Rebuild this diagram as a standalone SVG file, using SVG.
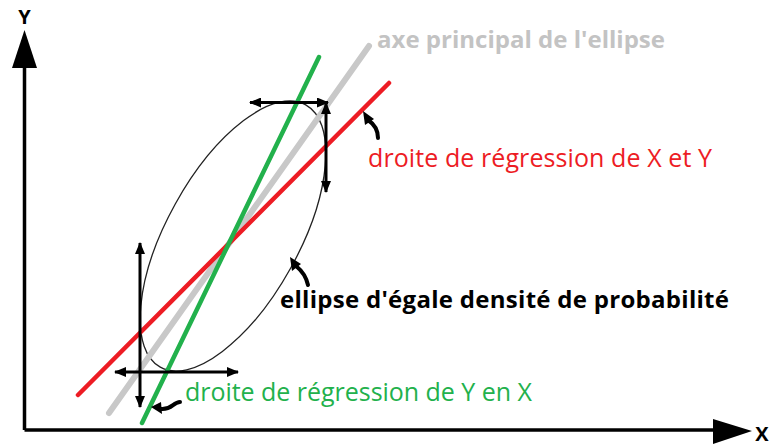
<svg xmlns="http://www.w3.org/2000/svg" width="774" height="448" viewBox="0 0 774 448">
<style>
.axis{stroke:#000;stroke-width:3.5;fill:none}
.dbl{stroke:#000;stroke-width:3;fill:none;marker-start:url(#ah);marker-end:url(#ah)}
.ptr{stroke:#000;stroke-width:4;fill:none;stroke-linecap:round}
.reg{fill:none;stroke-linecap:round}
.t{font-family:"Open Sans","Liberation Sans",sans-serif;font-size:25px}
.b{font-weight:bold;font-size:24px}
.ax{font-family:"Open Sans","Liberation Sans",sans-serif;font-weight:bold;font-size:20px}
</style>
<defs>
<marker id="ah" viewBox="0 0 12 10" refX="11" refY="5" markerWidth="12" markerHeight="10" markerUnits="userSpaceOnUse" orient="auto-start-reverse">
<path d="M0,0 L12,5 L0,10 z" fill="#000"/>
</marker>
</defs>
<rect width="774" height="448" fill="#fff"/>
<g id="axes">
<line class="axis" x1="24.5" y1="430" x2="24.5" y2="60"/>
<line class="axis" x1="24.5" y1="430" x2="720" y2="430"/>
<polygon points="24.5,30 12,68 37,68" fill="#000"/>
<polygon points="752,431 713,419 713,444" fill="#000"/>
<text x="24.5" y="24" class="ax" text-anchor="middle">Y</text>
<text x="762" y="441" class="ax" text-anchor="middle">X</text>
</g>
<g id="ellipse">
<ellipse cx="233" cy="236" rx="150" ry="66" transform="rotate(-61 233 236)" fill="none" stroke="#222" stroke-width="1.3"/>
</g>
<g id="lines">
<line id="axe-principal" class="reg" x1="109" y1="413" x2="369" y2="46" stroke="#c8c8c8" stroke-width="6"/>
<line id="reg-xy" class="reg" x1="78" y1="395" x2="389" y2="83" stroke="#ed1c24" stroke-width="4.5"/>
<line id="reg-yx" class="reg" x1="142" y1="423" x2="319" y2="57" stroke="#22b14c" stroke-width="4.5"/>
</g>
<g id="connectors">
<line class="dbl" x1="250" y1="102.5" x2="328" y2="102.5"/>
<line class="dbl" x1="326" y1="103" x2="326" y2="192"/>
<line class="dbl" x1="140" y1="243" x2="140" y2="407"/>
<line class="dbl" x1="115" y1="372" x2="238" y2="372"/>
<path class="ptr" d="M378,138 C378,129 374,124 368,120"/>
<polygon points="363,111 374,119 365,125" fill="#000"/>
<path class="ptr" d="M308,285 C306,276 301,270 296,266"/>
<polygon points="290,257 301,264 292,271" fill="#000"/>
<path class="ptr" d="M180,402 C173,402 172,410 161,409"/>
<polygon points="151,407 161,402 162,414" fill="#000"/>
</g>
<g id="labels">
<text x="377" y="48" class="t b" fill="#c3c3c3" textLength="288">axe principal de l'ellipse</text>
<text x="368" y="167" class="t" fill="#ed1c24" textLength="344">droite de régression de X et Y</text>
<text x="280" y="308" class="t b" fill="#000" textLength="449">ellipse d'égale densité de probabilité</text>
<text x="185" y="401" class="t" fill="#22b14c" textLength="347">droite de régression de Y en X</text>
</g>
</svg>
